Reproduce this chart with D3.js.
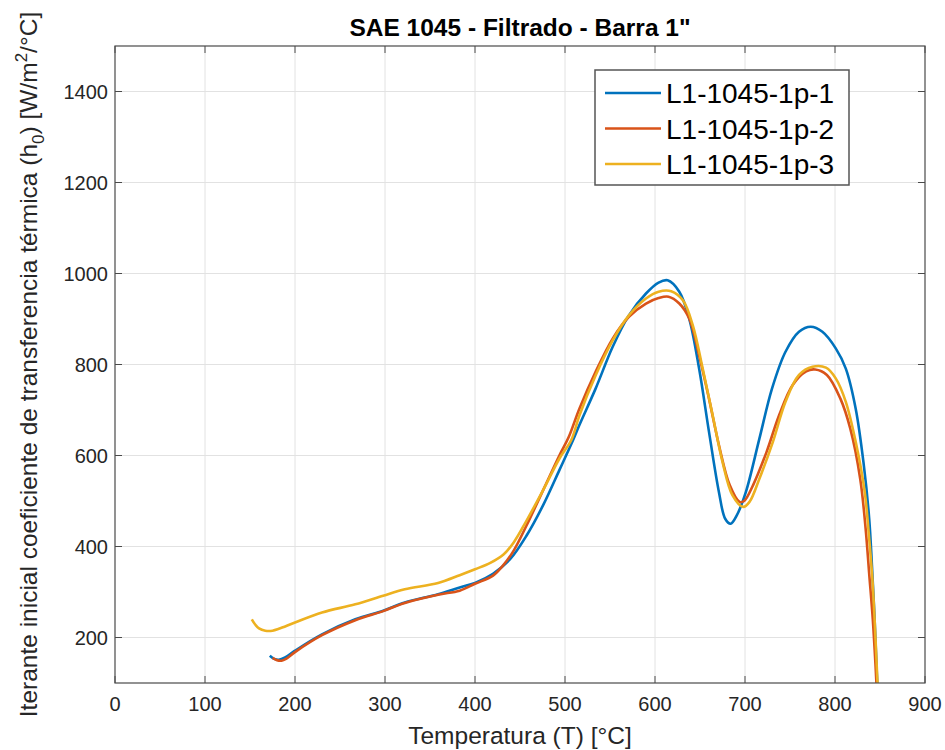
<!DOCTYPE html>
<html>
<head>
<meta charset="utf-8">
<script src="https://cdn.jsdelivr.net/npm/d3@7"></script>
<style>
  body { margin: 0; background: #fff; }
  text { font-family: "Liberation Sans", Arial, Helvetica, sans-serif; fill: #262626; }
</style>
</head>
<body>
<div id="chart"></div>
<script>
// series
const seriesNames = ["L1-1045-1p-1", "L1-1045-1p-2", "L1-1045-1p-3"];
const seriesColors = ["#0072BD", "#D95319", "#EDB120"];

const temp1 = [172, 177, 182, 189, 200, 230, 267, 298, 322, 359, 383, 400, 420, 439, 457, 476, 494, 509, 516, 534, 553, 571, 590, 604, 614, 627, 638, 649, 660, 671, 678, 684, 691, 701, 716, 730, 745, 760, 773, 786, 801, 812, 823, 832, 838, 841, 844, 846.5, 848];
const h1 = [160, 153, 151, 156, 171, 207, 240, 259, 277, 295, 310, 320, 340, 372, 423, 492, 569, 634, 667, 747, 839, 908, 956, 980, 985, 960, 901, 791, 652, 520, 461, 450, 469, 520, 637, 747, 828, 872, 883, 872, 835, 791, 703, 579, 461, 360, 240, 120, 60];

const temp2 = [175, 180, 185, 190, 200, 230, 267, 298, 322, 359, 383, 400, 420, 431, 443, 457, 476, 494, 504, 516, 534, 553, 571, 590, 604, 615, 627, 638, 649, 660, 671, 683, 694, 699, 709, 724, 738, 753, 768, 778, 791, 806, 817, 828, 834, 838, 842, 845, 847];
const h2 = [155, 150, 149, 153, 168, 205, 238, 258, 276, 294, 303, 318, 336, 358, 391, 445, 525, 601, 640, 703, 784, 857, 905, 934, 946, 949, 934, 901, 820, 725, 623, 535, 498, 500, 535, 608, 689, 755, 785, 789, 777, 725, 659, 549, 440, 340, 240, 140, 60];

const temp3 = [152, 156, 160, 167, 175, 182, 200, 230, 267, 298, 322, 359, 383, 400, 417, 432, 443, 457, 476, 494, 507, 516, 534, 553, 571, 590, 604, 618, 631, 642, 653, 664, 675, 686, 698, 705, 716, 731, 745, 760, 775, 790, 801, 812, 823, 833, 838, 841.5, 844.5, 847, 848.5];
const h3 = [240, 228, 220, 215, 215, 219, 233, 255, 273, 292, 306, 320, 337, 350, 364, 383, 409, 456, 525, 594, 634, 688, 776, 853, 908, 945, 960, 961, 941, 886, 791, 689, 586, 513, 487, 498, 549, 630, 718, 777, 795, 793, 769, 718, 630, 520, 417, 330, 220, 110, 60];

const xTicks = [0, 100, 200, 300, 400, 500, 600, 700, 800, 900];
const yTicks = [200, 400, 600, 800, 1000, 1200, 1400];

const W = 945, H = 750;
const margin = { top: 46, right: 20, bottom: 67, left: 115 };
const width = W - margin.left - margin.right,
      height = H - margin.top - margin.bottom;

const svg = d3.select("#chart").append("svg")
    .attr("width", W)
    .attr("height", H);

const g = svg.append("g")
    .attr("transform", `translate(${margin.left},${margin.top})`);

const x = d3.scaleLinear().domain([0, 900]).range([0, width]);
const y = d3.scaleLinear().domain([100, 1500]).range([height, 0]);

// grid
g.append("g").selectAll("line")
  .data(xTicks.slice(1, -1))
  .join("line")
    .attr("x1", d => x(d)).attr("x2", d => x(d))
    .attr("y1", 0).attr("y2", height)
    .attr("stroke", "#e2e2e2").attr("stroke-width", 1);
g.append("g").selectAll("line")
  .data(yTicks)
  .join("line")
    .attr("x1", 0).attr("x2", width)
    .attr("y1", d => y(d)).attr("y2", d => y(d))
    .attr("stroke", "#e2e2e2").attr("stroke-width", 1);

// clip
svg.append("defs").append("clipPath").attr("id", "clip")
  .append("rect").attr("width", width).attr("height", height);

const dataReady = [
  { name: seriesNames[0], color: seriesColors[0], values: temp1.map((t, i) => ({ t, h: h1[i] })) },
  { name: seriesNames[1], color: seriesColors[1], values: temp2.map((t, i) => ({ t, h: h2[i] })) },
  { name: seriesNames[2], color: seriesColors[2], values: temp3.map((t, i) => ({ t, h: h3[i] })) }
];

const line = d3.line()
  .x(d => x(d.t))
  .y(d => y(d.h))
  .curve(d3.curveCatmullRom.alpha(0.5));

g.append("g").attr("clip-path", "url(#clip)")
  .selectAll("path")
  .data(dataReady)
  .join("path")
    .attr("d", d => line(d.values))
    .attr("fill", "none")
    .attr("stroke", d => d.color)
    .attr("stroke-width", 2.6)
    .attr("stroke-linejoin", "round");

// axes (box with inward ticks on all sides)
const tickLen = 7;
const axisColor = "#4a4a4a";
g.append("rect")
  .attr("width", width).attr("height", height)
  .attr("fill", "none").attr("stroke", axisColor).attr("stroke-width", 1.2);

const xt = g.append("g");
xt.selectAll(".tb").data(xTicks).join("line")
  .attr("x1", d => x(d)).attr("x2", d => x(d))
  .attr("y1", height).attr("y2", height - tickLen)
  .attr("stroke", axisColor);
xt.selectAll(".tt").data(xTicks).join("line")
  .attr("x1", d => x(d)).attr("x2", d => x(d))
  .attr("y1", 0).attr("y2", tickLen)
  .attr("stroke", axisColor);
xt.selectAll("text").data(xTicks).join("text")
  .attr("x", d => x(d))
  .attr("y", height + 28)
  .attr("text-anchor", "middle")
  .style("font-size", "20px")
  .text(d => d);

const yt = g.append("g");
yt.selectAll(".tl").data(yTicks).join("line")
  .attr("x1", 0).attr("x2", tickLen)
  .attr("y1", d => y(d)).attr("y2", d => y(d))
  .attr("stroke", axisColor);
yt.selectAll(".tr").data(yTicks).join("line")
  .attr("x1", width).attr("x2", width - tickLen)
  .attr("y1", d => y(d)).attr("y2", d => y(d))
  .attr("stroke", axisColor);
yt.selectAll("text").data(yTicks).join("text")
  .attr("x", -7)
  .attr("y", d => y(d) + 7)
  .attr("text-anchor", "end")
  .style("font-size", "20px")
  .text(d => d);

// title
svg.append("text")
  .attr("x", margin.left + width / 2)
  .attr("y", 36)
  .attr("text-anchor", "middle")
  .style("font-size", "24.5px")
  .style("font-weight", "bold")
  .style("fill", "#000")
  .text("SAE 1045 - Filtrado - Barra 1\"");

// x label
svg.append("text")
  .attr("x", margin.left + width / 2)
  .attr("y", 744)
  .attr("text-anchor", "middle")
  .style("font-size", "24.5px")
  .text("Temperatura (T) [°C]");

// y label with sub/superscripts
const yl = svg.append("text")
  .attr("transform", `translate(37,${margin.top + height / 2}) rotate(-90)`)
  .attr("text-anchor", "middle")
  .style("font-size", "24.5px");
yl.append("tspan").text("Iterante inicial coeficiente de transferencia térmica (h");
yl.append("tspan").attr("dy", 7).style("font-size", "17px").text("0");
yl.append("tspan").attr("dy", -7).text(") [W/m");
yl.append("tspan").attr("dy", -10).style("font-size", "17px").text("2");
yl.append("tspan").attr("dy", 10).text("/°C]");

// legend
const lg = svg.append("g").attr("transform", "translate(595,70)");
lg.append("rect")
  .attr("width", 254).attr("height", 115)
  .attr("fill", "#fff").attr("stroke", "#555").attr("stroke-width", 1.5);
const items = lg.selectAll(".item").data(dataReady).join("g")
  .attr("transform", (d, i) => `translate(0,${23 + i * 35.5})`);
items.append("line")
  .attr("x1", 10).attr("x2", 66)
  .attr("stroke", d => d.color).attr("stroke-width", 2.6);
items.append("text")
  .attr("x", 71).attr("y", 10)
  .style("font-size", "28px")
  .style("fill", "#000")
  .text(d => d.name);
</script>
</body>
</html>
